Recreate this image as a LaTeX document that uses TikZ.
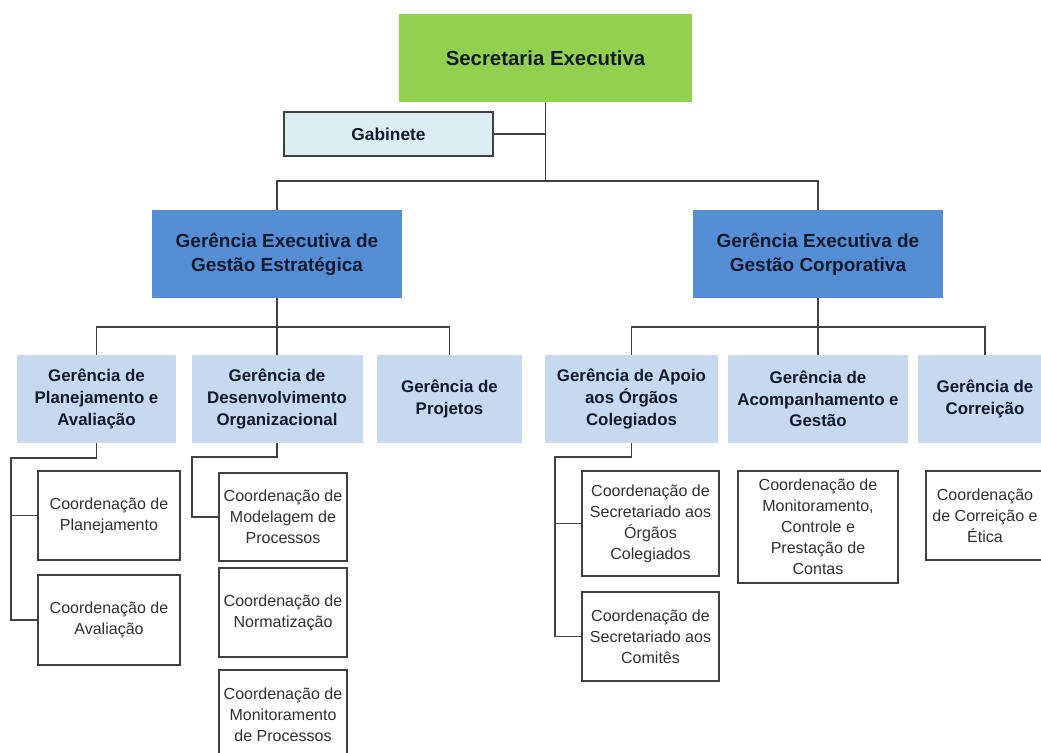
\documentclass[tikz,border=0pt]{standalone}
\usepackage{fontspec}
\setmainfont{Liberation Sans}
\usetikzlibrary{calc}

\definecolor{secgreen}{HTML}{92D050}
\definecolor{gerblue}{HTML}{558ED5}
\definecolor{gerlight}{HTML}{C6D9F1}
\definecolor{gabcyan}{HTML}{DBEEF3}
\definecolor{linegray}{HTML}{404040}
\definecolor{txtnavy}{HTML}{141A2E}
\definecolor{txtgray}{HTML}{303030}

\tikzset{
  boxsize/.style 2 args={minimum width=#1*0.025cm, minimum height=#2*0.025cm},
  topbox/.style={fill=secgreen, inner sep=0pt, align=center, text=txtnavy,
    font=\fontsize{14.5}{17}\selectfont\bfseries},
  gabbox/.style={fill=gabcyan, draw=linegray, line width=1.2pt, inner sep=0pt,
    text=txtnavy, font=\fontsize{12.3}{14}\selectfont\bfseries},
  exebox/.style={fill=gerblue, inner sep=0pt, align=center, text=txtnavy,
    font=\fontsize{13.5}{17}\selectfont\bfseries},
  gerbox/.style={fill=gerlight, inner sep=0pt, align=center, text=txtnavy,
    font=\fontsize{12}{15.4}\selectfont\bfseries},
  coordbox/.style={fill=white, draw=linegray, line width=1.2pt, inner sep=0pt,
    align=center, text=txtgray, font=\fontsize{11.4}{14.9}\selectfont},
  conn/.style={draw=linegray, line width=1.3pt},
}

\begin{document}
\begin{tikzpicture}[x=0.025cm, y=-0.025cm]
    \useasboundingbox (0,0) rectangle (1041,752);

    % top level
    \node[topbox, boxsize={293}{88}] (sec) at (545.5,58) {Secretaria Executiva};
    \node[gabbox, boxsize={209}{44}] (gab) at (388.5,134) {Gabinete};

    % executive managements
    \node[exebox, boxsize={250}{88}] (gee) at (277,254) {Gerência Executiva de\\Gestão Estratégica};
    \node[exebox, boxsize={250}{88}] (gec) at (818,254) {Gerência Executiva de\\Gestão Corporativa};

    % managements
    \node[gerbox, boxsize={159}{88}] (gpa) at (96.5,399) {Gerência de\\Planejamento e\\Avaliação};
    \node[gerbox, boxsize={171}{88}] (gdo) at (277,399) {Gerência de\\Desenvolvimento\\Organizacional};
    \node[gerbox, boxsize={145}{88}] (gpr) at (449.5,399) {Gerência de\\Projetos};
    \node[gerbox, boxsize={173}{88}] (gao) at (631.5,399) {Gerência de Apoio\\aos Órgãos\\Colegiados};
    \node[gerbox, boxsize={180}{88}] (gag) at (818,399) {Gerência de\\Acompanhamento e\\Gestão};
    \node[gerbox, boxsize={134}{88}] (gco) at (985,399) {Gerência de\\Correição};

    % coordinations
    \node[coordbox, boxsize={142}{89}] (cpl) at (109,515.5) {Coordenação de\\Planejamento};
    \node[coordbox, boxsize={142}{90}] (cav) at (109,620) {Coordenação de\\Avaliação};
    \node[coordbox, boxsize={128}{88}] (cmp) at (283,517) {Coordenação de\\Modelagem de\\Processos};
    \node[coordbox, boxsize={128}{89}] (cno) at (283,612.5) {Coordenação de\\Normatização};
    \node[coordbox, boxsize={128}{90}] (cmo) at (283,715) {Coordenação de\\Monitoramento\\de Processos};
    \node[coordbox, boxsize={137}{105}] (cso) at (650.5,523.5) {Coordenação de\\Secretariado aos\\Órgãos\\Colegiados};
    \node[coordbox, boxsize={137}{89}] (csc) at (650.5,636.5) {Coordenação de\\Secretariado aos\\Comitês};
    \node[coordbox, boxsize={160}{112}] (cmc) at (818,527) {Coordenação de\\Monitoramento,\\Controle e\\Prestação de\\Contas};
    \node[coordbox, boxsize={118}{89}] (cce) at (985,515.5) {Coordenação\\de Correição e\\Ética};

    % connectors
    \draw[conn] (sec.south) -- ++(0,79) coordinate (j0);
    \draw[conn] (gab.east) -- (gab.east -| sec.south);
    \foreach \n in {gee, gec} {
        \draw[conn] (j0) -| (\n.north);
    }
    \draw[conn] (gee.south) -- ++(0,29) coordinate (j1);
    \foreach \n in {gpa, gdo, gpr} {
        \draw[conn] (j1) -| (\n.north);
    }
    \draw[conn] (gec.south) -- ++(0,29) coordinate (j2);
    \foreach \n in {gao, gag, gco} {
        \draw[conn] (j2) -| (\n.north);
    }
    \draw[conn] (gpa.south) -- ++(0,15) -| ($(cav.west)+(-26,0)$) -- (cav.west);
    \draw[conn] (cpl.west) -- ++(-26,0);
    \draw[conn] (gdo.south) -- ++(0,14) -| ($(cmp.west)+(-26,0)$) -- (cmp.west);
    \draw[conn] (gao.south) -- ++(0,14) -| ($(csc.west)+(-26,0)$) -- (csc.west);
    \draw[conn] (cso.west) -- ++(-26,0);
\end{tikzpicture}
\end{document}
